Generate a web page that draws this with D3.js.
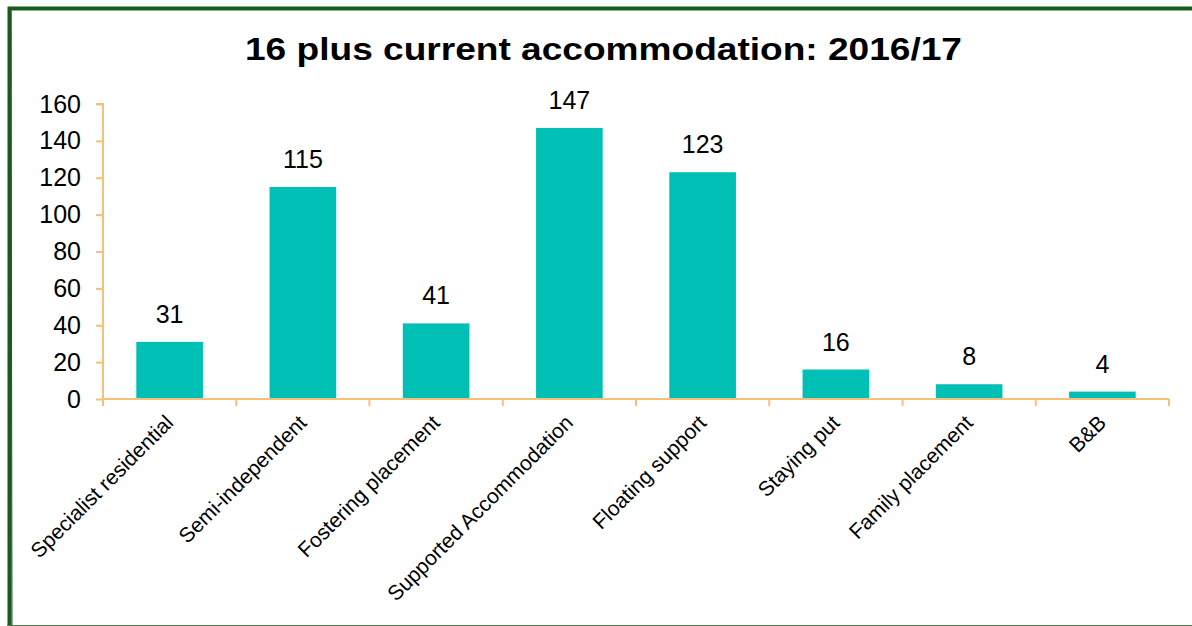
<!DOCTYPE html>
<html>
<head>
<meta charset="utf-8">
<script src="https://cdn.jsdelivr.net/npm/d3@7"></script>
<style>
  body { margin: 0; background: #fff; }
  text { font-family: "Liberation Sans", Arial, sans-serif; fill: #000; }
</style>
</head>
<body>
<script>
// chart data
const categories = ["Specialist residential", "Semi-independent", "Fostering placement",
  "Supported Accommodation", "Floating support", "Staying put", "Family placement", "B&B"];
const counts = [31, 115, 41, 147, 123, 16, 8, 4];
const yTicks = [0, 20, 40, 60, 80, 100, 120, 140, 160];
const chartTitle = "16 plus current accommodation: 2016/17";

const width = 1192;
const height = 626;
const margin = {left: 103, right: 23, top: 104, bottom: 227};

const barColor = "#00BFB4";
const axisColor = "#F5C07A";
const frameColor = "#1B5A1F";

const svg = d3.select("body")
  .append("svg")
  .attr("width", width)
  .attr("height", height);

// frame (right edge is cut off in the original)
svg.append("path")
  .attr("d", "M9.5,626V8.5H1192")
  .attr("fill", "none")
  .attr("stroke", frameColor)
  .attr("stroke-width", 4);
svg.append("line")
  .attr("x1", 7).attr("x2", width)
  .attr("y1", 625.5).attr("y2", 625.5)
  .attr("stroke", "#4f7a52")
  .attr("stroke-width", 1);
svg.append("line")
  .attr("x1", 11).attr("x2", 12)
  .attr("y1", 11).attr("y2", 626)
  .attr("stroke", frameColor)
  .attr("stroke-width", 1);

svg.append("text")
  .attr("x", 245)
  .attr("y", 60)
  .attr("textLength", 717)
  .attr("lengthAdjust", "spacingAndGlyphs")
  .style("font-size", "31px")
  .style("font-weight", "bold")
  .text(chartTitle);

const x = d3.scaleBand()
  .domain(categories)
  .range([margin.left, width - margin.right])
  .paddingInner(0.5)
  .paddingOuter(0.25);

const y = d3.scaleLinear()
  .domain([0, 160])
  .range([height - margin.bottom, margin.top]);

// bars
svg.append("g")
  .selectAll("rect")
  .data(counts)
  .join("rect")
  .attr("x", (d, i) => x(categories[i]))
  .attr("y", (d) => y(d))
  .attr("width", x.bandwidth())
  .attr("height", (d) => y(0) - y(d))
  .attr("fill", barColor);

// value labels
svg.append("g")
  .selectAll("text")
  .data(counts)
  .join("text")
  .attr("x", (d, i) => x(categories[i]) + x.bandwidth() / 2)
  .attr("y", (d) => y(d) - 19)
  .attr("text-anchor", "middle")
  .style("font-size", "25px")
  .text((d) => d);

// y axis
const yAxis = svg.append("g")
  .attr("transform", `translate(${margin.left},0)`)
  .call(d3.axisLeft(y).tickValues(yTicks).tickSize(7).tickPadding(15));
yAxis.select(".domain").attr("stroke", axisColor).attr("stroke-width", 2)
  .attr("d", `M-7,${y(160)}H0V${y(0)}`);
yAxis.selectAll(".tick line").attr("stroke", axisColor).attr("stroke-width", 2);
yAxis.selectAll(".tick text")
  .style("font-size", "25px")
  .style("font-family", "'Liberation Sans', Arial, sans-serif")
  .attr("fill", "#000");

// x axis, ticks between categories
const step = x.step();
const boundaries = d3.range(categories.length + 1).map((i) => margin.left + i * step);
const xAxis = svg.append("g");
xAxis.append("line")
  .attr("x1", margin.left).attr("x2", width - margin.right)
  .attr("y1", y(0)).attr("y2", y(0))
  .attr("stroke", axisColor)
  .attr("stroke-width", 2);
xAxis.selectAll("line.tick")
  .data(boundaries)
  .join("line")
  .attr("class", "tick")
  .attr("x1", (d) => d).attr("x2", (d) => d)
  .attr("y1", y(0)).attr("y2", y(0) + 7)
  .attr("stroke", axisColor)
  .attr("stroke-width", 2);

xAxis.selectAll("text")
  .data(categories)
  .join("text")
  .attr("transform", (d) => `translate(${x(d) + x.bandwidth() / 2 + 5},${y(0) + 25}) rotate(-45)`)
  .attr("text-anchor", "end")
  .style("font-size", "21px")
  .text((d) => d);
</script>
</body>
</html>
